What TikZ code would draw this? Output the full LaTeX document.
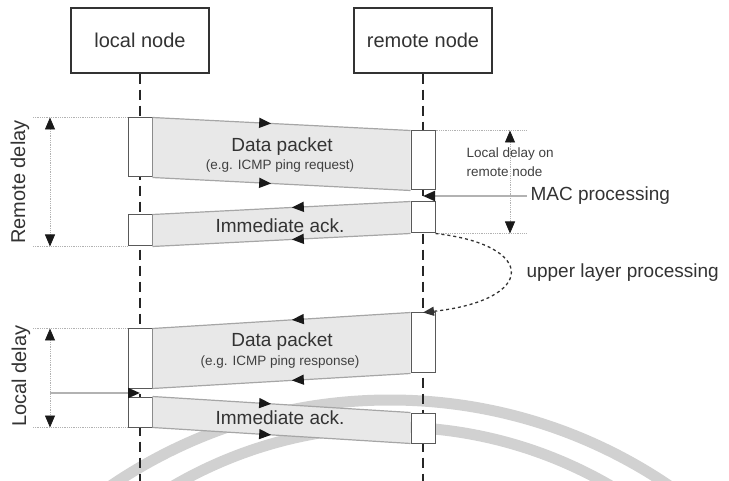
\documentclass[tikz,border=0pt]{standalone}
\usepackage{fontspec}
\setmainfont{Liberation Sans}
\usetikzlibrary{arrows.meta, decorations.markings}

\begin{document}
\begin{tikzpicture}[
    x=1pt, y=-1pt,
    actor/.style={draw=black!80, line width=1.2pt, fill=white, minimum width=138pt,
                  minimum height=65pt, font=\fontsize{20}{24}\selectfont, text=black!80},
    lifeline/.style={draw=black!85, line width=1.6pt, dash pattern=on 10pt off 6pt},
    act/.style={draw=black!65, fill=white, line width=1pt, minimum width=24pt,
                minimum height=#1, inner sep=0pt},
    band/.style={fill=black!9},
    msg/.style={draw=gray!70, line width=1.2pt, postaction={decorate},
                decoration={markings, mark=at position 0.46 with
                  {\arrow{Triangle[length=12pt, width=10pt, color=black!90]}}}},
    lbl/.style={font=\fontsize{19}{22}\selectfont, text=black!80},
    smalltxt/.style={font=\fontsize{13.5}{19}\selectfont, text=black!75},
    ext/.style={draw=gray!60, line width=0.8pt, densely dotted},
    dim/.style={ext, {Triangle[length=12pt, width=10pt, color=black!90]}-{Triangle[length=12pt, width=10pt, color=black!90]}},
    mac/.style={draw=gray!60, line width=2pt, -{Triangle[length=12pt, width=10pt, color=black!90]}},
    ulp/.style={draw=black!80, line width=1.3pt, dashed, -{Triangle[length=11pt, width=9pt]}}
]
\useasboundingbox (0,0) rectangle (729,481);

% watermark arcs of the scan
\begin{scope}
  \clip (0,0) rectangle (729,481);
  \draw[black!18, line width=11pt] (390,897) circle[radius=497];
  \draw[black!18, line width=11pt] (392,862) circle[radius=435];
\end{scope}

% the two nodes and their lifelines
\node[actor] (local)  at (140,40.5) {local node};
\node[actor] (remote) at (423,40.5) {remote node};
\coordinate (bottom) at (0,481);
\draw[lifeline] (local.south)  -- (local.south |- bottom);
\draw[lifeline] (remote.south) -- (remote.south |- bottom);

% activation boxes
\node[act=59pt] (la1) at (140,147.5) {};
\node[act=31pt] (la2) at (140,230.5) {};
\node[act=59pt] (la3) at (140,358.5) {};
\node[act=30pt] (la4) at (140,412)   {};
\node[act=59pt] (ra1) at (423,160.5) {};
\node[act=31pt] (ra2) at (423,217.5) {};
\node[act=60pt] (ra3) at (423,343)   {};
\node[act=30pt] (ra4) at (423,428)   {};

% frames in flight
\foreach \l/\r in {la1/ra1, la2/ra2, la3/ra3, la4/ra4}
  \fill[band] (\l.north east) -- (\r.north west) -- (\r.south west) -- (\l.south east) -- cycle;
\foreach \s/\t in {la1.north east/ra1.north west, la1.south east/ra1.south west,
                   ra2.north west/la2.north east, ra2.south west/la2.south east,
                   ra3.north west/la3.north east, ra3.south west/la3.south east,
                   la4.north east/ra4.north west, la4.south east/ra4.south west}
  \draw[msg] (\s) -- (\t);

\node[lbl]      (dp1)  at (282,147) {Data packet};
\node[smalltxt] (req)  at (280,166) {(e.g. ICMP ping request)};
\node[lbl]      (ack1) at (280,226) {Immediate ack.};
\node[lbl]      (dp2)  at (282,342) {Data packet};
\node[smalltxt] (resp) at (280,362) {(e.g. ICMP ping response)};
\node[lbl]      (ack2) at (280,418) {Immediate ack.};

% delays on the left
\coordinate (lext) at (33,0);
\coordinate (ldim) at (50,0);
\draw[ext] (la1.north west -| lext) -- (la1.north west);
\draw[ext] (la2.south west -| lext) -- (la2.south west);
\draw[dim] (la1.north west -| ldim) -- (la2.south west -| ldim);
\draw[ext] (la3.north west -| lext) -- (la3.north west);
\draw[ext] (la4.south west -| lext) -- (la4.south west);
\draw[dim] (la3.north west -| ldim) -- (la4.south west -| ldim);
\node[lbl, font=\fontsize{20}{24}\selectfont, rotate=90] (rdel) at (20,182) {Remote delay};
\node[lbl, font=\fontsize{20}{24}\selectfont, rotate=90] (ldel) at (21,376) {Local delay};
\coordinate (lmac) at (50,393);
\draw[mac] (lmac) -- (lmac -| la4.north);

% delay on the remote side
\coordinate (rdim) at (510,0);
\coordinate (rext) at (526,0);
\draw[ext] (ra1.north east) -- (ra1.north east -| rext);
\draw[ext] (ra2.south east) -- (ra2.south east -| rext);
\draw[dim] (ra1.north east -| rdim) -- (ra2.south east -| rdim);
\node[smalltxt, align=left, anchor=west] (lrn) at (463,162) {Local delay on\\remote node};
\node[lbl, anchor=west] (mac) at (527,196) {MAC processing};
\draw[mac] (mac.west) -- (mac.west -| ra1.south);

% upper layers
\node[lbl, anchor=west] (upl) at (523,273) {upper layer processing};
\draw[ulp] (ra2.south east) .. controls (537,245) and (537,300) .. (ra3.north);
\end{tikzpicture}
\end{document}
